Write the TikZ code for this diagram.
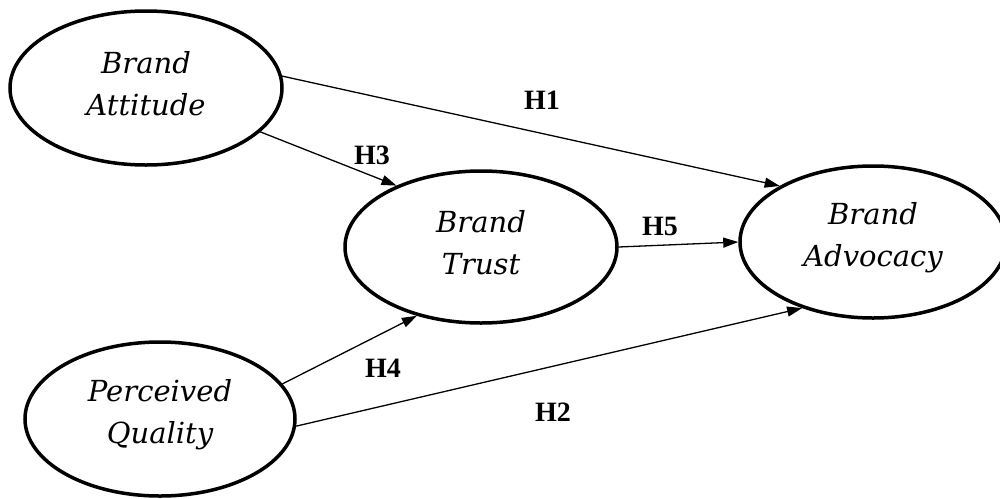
\documentclass[tikz,border=0pt]{standalone}
\usepackage{fontspec}
\setmainfont{Liberation Serif}
\newfontfamily\constructfont{DejaVu Serif}
\newcommand{\upline}[1]{\raisebox{4pt}[\height][\depth]{#1}}
\usetikzlibrary{arrows.meta,shapes.geometric}
\begin{document}
\begin{tikzpicture}[x=1pt,y=1pt,
  construct/.style={ellipse,draw,line width=3.5pt,inner sep=0pt,align=center,
    font=\constructfont\fontsize{29}{42}\selectfont\itshape},
  path/.style={line width=1.3pt,-{Triangle[length=15pt,width=10pt]}},
  hlabel/.style={font=\fontsize{28}{32}\selectfont\bfseries}]
\useasboundingbox (0,0) rectangle (1000,-498);
\node[construct,minimum width=272pt,minimum height=154pt] (att) at (146,-88) {\upline{Brand}\\\upline{Attitude}};
\node[construct,minimum width=272pt,minimum height=152pt] (tr) at (481,-247) {\upline{Brand}\\\upline{Trust}};
\node[construct,minimum width=266pt,minimum height=152pt] (adv) at (873,-242) {\upline{Brand}\\\upline{Advocacy}};
\node[construct,minimum width=270pt,minimum height=154pt] (q) at (160,-419) {\upline{Perceived}\\\upline{Quality}};
\draw[path] (att.5) -- (adv.149);
\draw[path] (att.339) -- (tr.144);
\draw[path] (tr.east) -- (adv.west);
\draw[path] (q.16) -- (tr.227);
\draw[path] (q.-3) -- (adv.223);
\node[hlabel] (h1) at (542,-100) {H1};
\node[hlabel] (h3) at (372,-155) {H3};
\node[hlabel] (h5) at (660,-226) {H5};
\node[hlabel] (h4) at (383,-368) {H4};
\node[hlabel] (h2) at (553,-412) {H2};
\end{tikzpicture}
\end{document}
